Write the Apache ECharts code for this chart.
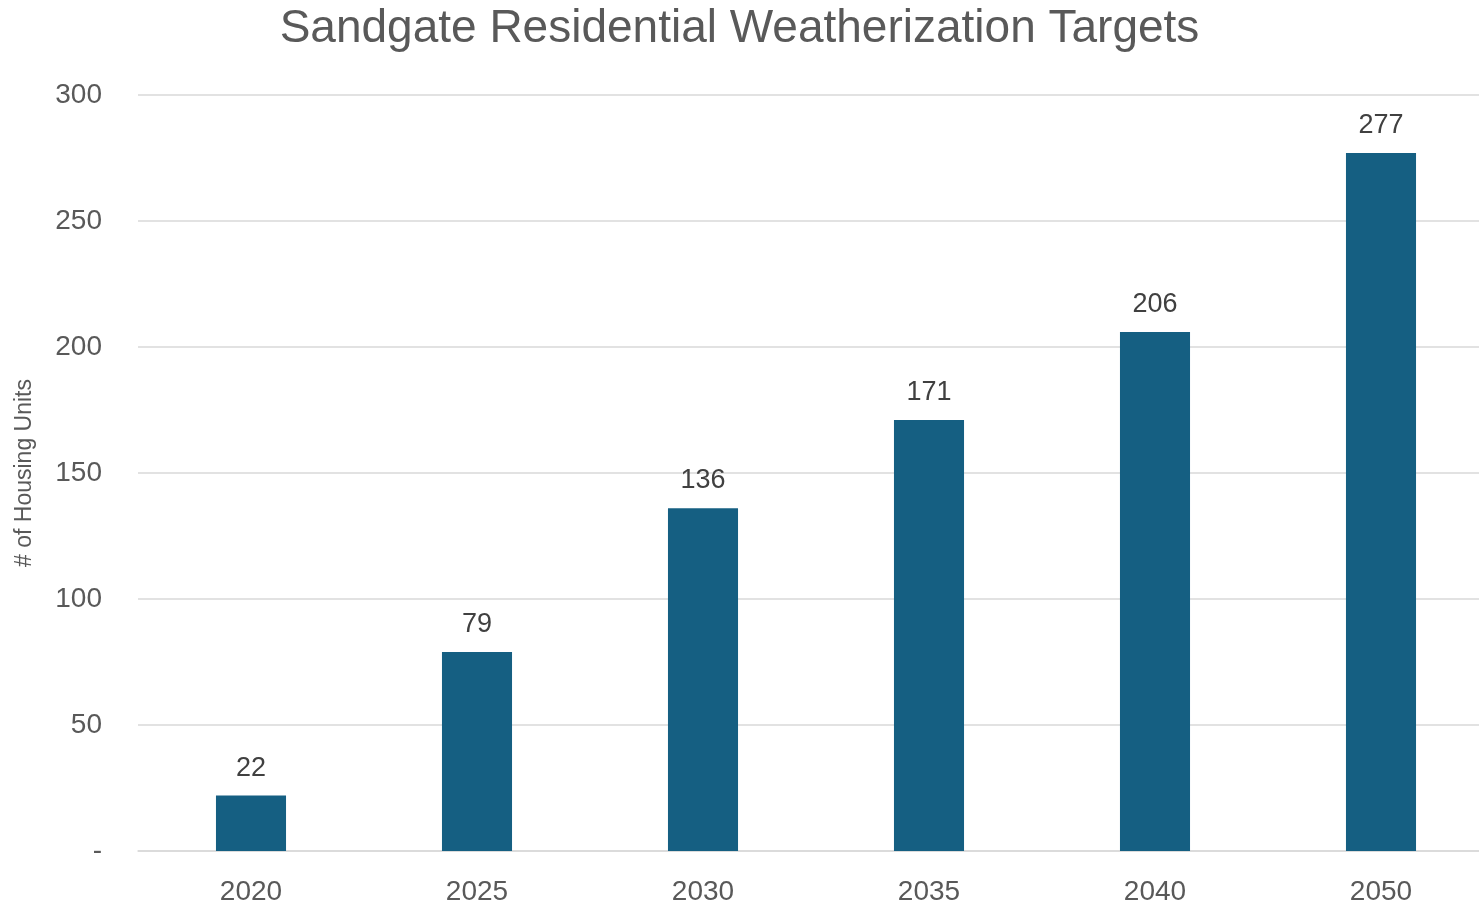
<!DOCTYPE html>
<html lang="en">
<head>
    <meta charset="UTF-8">
    <title>Sandgate Residential Weatherization Targets</title>
    <script src="https://cdn.jsdelivr.net/npm/echarts@6/dist/echarts.min.js"></script>
    <style>
        html, body { margin: 0; padding: 0; background: #fff; }
        #chart { width: 1479px; height: 908px; }
    </style>
</head>
<body>
<div id="chart"></div>
<script>
    // 数据
    var years = ['2020', '2025', '2030', '2035', '2040', '2050'];
    var units = [22, 79, 136, 171, 206, 277];

    var chart = echarts.init(document.getElementById('chart'));
    var option = {
        animation: false,
        title: {
            text: 'Sandgate Residential Weatherization Targets',
            left: 'center',
            top: 1,
            textStyle: {
                fontFamily: 'Liberation Sans',
                fontSize: 46,
                fontWeight: 'normal',
                color: '#595959'
            }
        },
        grid: {
            left: 138,
            right: -15,
            top: 95,
            bottom: 57,
            outerBoundsMode: 'none'
        },
        xAxis: {
            type: 'category',
            data: years,
            axisTick: { show: false },
            axisLine: { lineStyle: { color: '#d9d9d9', width: 1.5 } },
            axisLabel: {
                margin: 27,
                fontFamily: 'Liberation Sans',
                fontSize: 28,
                color: '#595959'
            }
        },
        yAxis: {
            type: 'value',
            min: 0,
            max: 300,
            interval: 50,
            name: '# of Housing Units',
            nameLocation: 'middle',
            nameGap: 102,
            nameTextStyle: {
                fontFamily: 'Liberation Sans',
                fontSize: 23,
                color: '#595959'
            },
            axisLabel: {
                margin: 36,
                fontFamily: 'Liberation Sans',
                fontSize: 28,
                color: '#595959',
                formatter: function (v) { return v === 0 ? '-' : v; }
            },
            splitLine: { lineStyle: { color: '#d9d9d9', width: 1.5 } }
        },
        series: [
            {
                type: 'bar',
                data: units,
                barWidth: '31%',
                itemStyle: { color: '#155f82' },
                label: {
                    show: true,
                    position: 'top',
                    distance: 14,
                    fontFamily: 'Liberation Sans',
                    fontSize: 27,
                    color: '#404040'
                }
            }
        ]
    };
    chart.setOption(option);
</script>
</body>
</html>
